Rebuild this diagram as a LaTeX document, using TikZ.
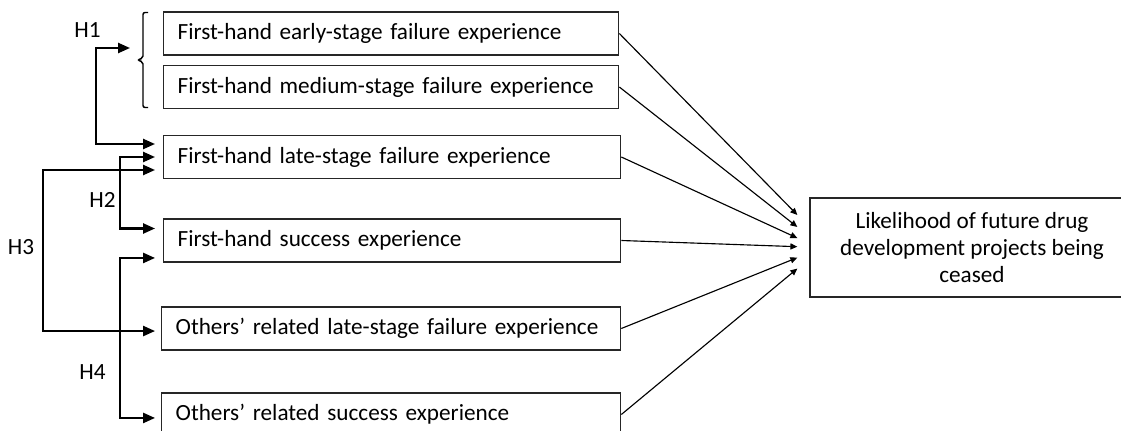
\documentclass[tikz,border=0pt]{standalone}
\usepackage{fontspec}
\setmainfont{Carlito}
\usetikzlibrary{arrows.meta}
\begin{document}
\begin{tikzpicture}[x=0.75pt,y=-0.75pt,
  every node/.style={font=\fontsize{17.4}{20.25}\selectfont},
  factor/.style={draw=black!85, line width=1pt, anchor=west, minimum height=32.25pt,
    inner xsep=10.5pt, inner ysep=0pt, align=left, text width=#1},
  outcome/.style={draw=black!85, line width=1pt, minimum width=243pt, minimum height=74.25pt,
    align=center, inner sep=0pt},
  effect/.style={-{Triangle[length=5.2pt,width=4.6pt]}, line width=0.85pt},
  hyp/.style={{Triangle[length=9pt,width=7.6pt]}-{Triangle[length=9pt,width=7.6pt]},
    line width=1.6pt},
  hlabel/.style={inner sep=0pt}
]
\useasboundingbox (0,0) rectangle (1121,431);
\clip (0,0) rectangle (1121,431);

% experience factors
\node[factor=320.25pt] (early)    at (163,33.5)  {First-hand early-stage failure experience};
\node[factor=320.25pt] (medium)   at (163,87)    {First-hand medium-stage failure experience};
\node[factor=321.75pt] (late)     at (163,157)   {First-hand late-stage failure experience};
\node[factor=321.75pt] (success)  at (163,240.5) {First-hand success experience};
\node[factor=323.25pt] (olate)    at (161,328.5) {Others’ related late-stage failure experience};
\node[factor=323.25pt] (osuccess) at (161,414.5) {Others’ related success experience};

% outcome
\node[outcome] (ceased) at (972,247.5) {Likelihood of future drug\\development projects being\\ceased};

% effects on the outcome
\draw[effect] (early.east)    -- ([xshift=-9pt,yshift=24.4pt]ceased.west);
\draw[effect] (medium.east)   -- ([xshift=-9pt,yshift=15.4pt]ceased.west);
\draw[effect] (late.east)     -- ([xshift=-9pt,yshift=7.1pt]ceased.west);
\draw[effect] (success.east)  -- ([xshift=-9pt,yshift=0.6pt]ceased.west);
\draw[effect] (olate.east)    -- ([xshift=-9pt,yshift=-7.6pt]ceased.west);
\draw[effect] (osuccess.east) -- ([xshift=-9pt,yshift=-15.8pt]ceased.west);

% bracket grouping early and medium stage
\draw[line width=1.1pt, rounded corners=1.5pt]
  (148,12.5) -- (143,12.5) -- (143,58) -- (137.5,60) -- (143,62) -- (143,107.5) -- (148,107.5);

% hypothesis comparison arrows
\coordinate (h1b) at (130,48);
\coordinate (x1) at (96,0);
\coordinate (x2) at (120,0);
\coordinate (x3) at (43,0);
\coordinate (L1) at ([xshift=-6pt,yshift=9.75pt]late.west);
\coordinate (L2) at ([xshift=-6pt]late.west);
\coordinate (L3) at ([xshift=-6pt,yshift=-9.75pt]late.west);
\coordinate (S1) at ([xshift=-6pt,yshift=9pt]success.west);
\coordinate (S2) at ([xshift=-6pt,yshift=-13.1pt]success.west);
\coordinate (O1) at ([xshift=-4.5pt,yshift=-1.9pt]olate.west);
\coordinate (O2) at ([xshift=-4.5pt,yshift=-2.6pt]osuccess.west);

\draw[hyp] (h1b) -- (h1b -| x1) |- (L1);
\draw[hyp] (L2) -- (L2 -| x2) |- (S1);
\draw[hyp] (L3) -- (L3 -| x3) |- (O1);
\draw[hyp] (S2) -- (S2 -| x2) |- (O2);

\node[hlabel] (lh1) at (87.5,30)  {H1};
\node[hlabel] (lh2) at (102.5,199.5) {H2};
\node[hlabel] (lh3) at (21,246.7) {H3};
\node[hlabel] (lh4) at (92.5,371.7) {H4};
\end{tikzpicture}
\end{document}
